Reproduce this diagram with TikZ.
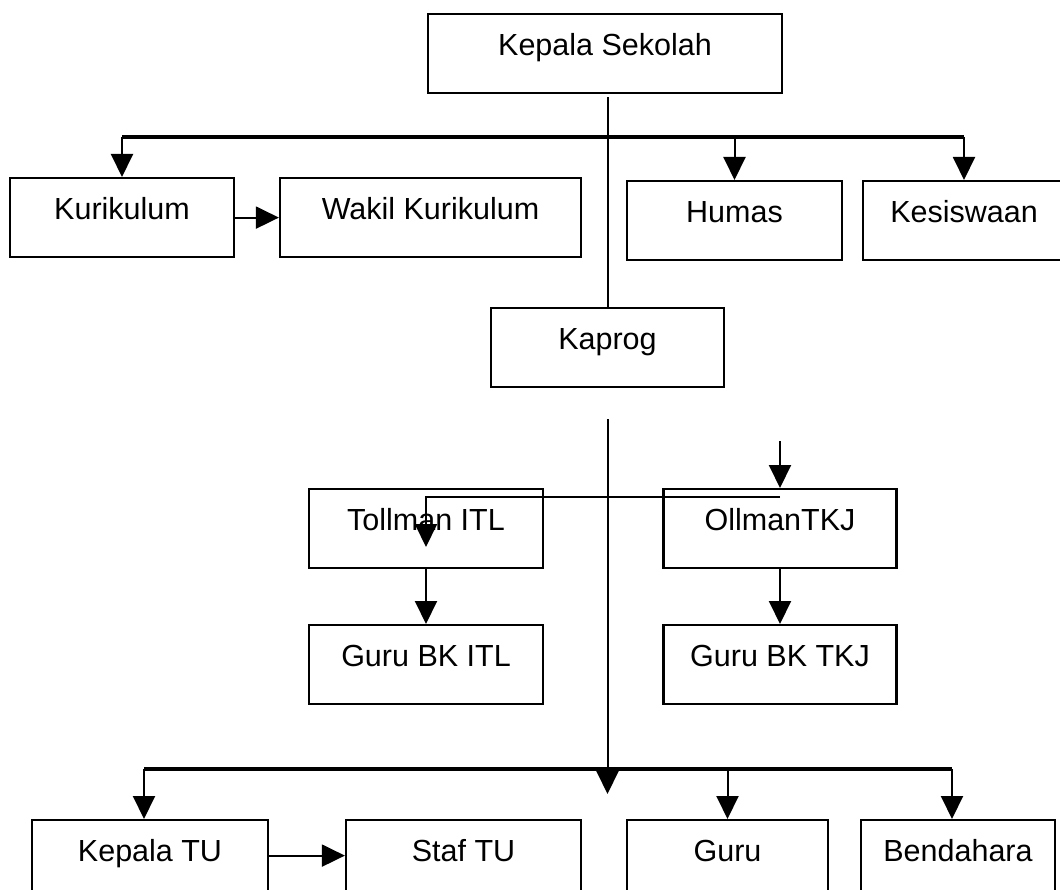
\documentclass[tikz,border=0pt]{standalone}
\usepackage{fontspec}
\setmainfont{Liberation Sans}
\usetikzlibrary{arrows.meta}
\tikzstyle{Box}=[draw,rectangle,line width=2.2pt,inner sep=0pt,anchor=north,
    text height=41pt,text depth=38pt,font=\fontsize{30.5}{36}\selectfont]
\tikzstyle{Edge}=[draw,line width=2pt]
\tikzstyle{Bus}=[draw,line width=3.2pt]
\tikzstyle{Arrow}=[Edge,-{Triangle[width=22pt,length=23pt]}]

\begin{document}
\begin{tikzpicture}[x=1pt,y=-1pt]
            \useasboundingbox(0,0)rectangle(1060,890);
            \node[Box,minimum width=354](ks)at(605,13){Kepala Sekolah};
            \node[Box,minimum width=224](kur)at(122,177){Kurikulum};
            \node[Box,minimum width=301](wk)at(430.5,177){Wakil Kurikulum};
            \node[Box,minimum width=215](hum)at(734.5,180){Humas};
            \node[Box,minimum width=202](kes)at(964,180){Kesiswaan};
            \node[Box,minimum width=233](kp)at(607.5,307){Kaprog};
            \node[Box,minimum width=234](ti)at(426,488){Tollman ITL};
            \node[Box,minimum width=233](ol)at(780,488){OllmanTKJ};
            \node[Box,minimum width=234](gi)at(426,624){Guru BK ITL};
            \node[Box,minimum width=233](gt)at(780,624){Guru BK TKJ};
            \node[Box,minimum width=236](ktu)at(150,819){Kepala TU};
            \node[Box,minimum width=235](stu)at(463.5,819){Staf TU};
            \node[Box,minimum width=201](gu)at(727.5,819){Guru};
            \node[Box,minimum width=194](bd)at(958,819){Bendahara};
            \coordinate(b1)at(0,137);
            \coordinate(b2)at(0,769);
            \coordinate(h)at(0,497);
            \coordinate(t)at(780,441);
            \coordinate(c)at(426,547);
            \coordinate(m)at(607.5,794);
            %
            \draw[Edge]([yshift=-3]kp.north |- ks.south)--(kp.north);
            \draw[Bus](kur.north |- b1)--(kes.north |- b1);
            \draw[Arrow](kur.north |- b1)--(kur.north);
            \draw[Arrow](hum.north |- b1)--(hum.north);
            \draw[Arrow](kes.north |- b1)--(kes.north);
            \draw[Arrow](kur.east)--(wk.west);
            %
            \draw[Arrow](t)--(ol.north);
            \draw[Arrow](ol.north |- h)-|(c);
            \draw[Arrow](ti.south)--(gi.north);
            \draw[Arrow](ol.south)--(gt.north);
            %
            \draw[Arrow]([yshift=-31]kp.south)--(m);
            \draw[Bus]([xshift=-6]ktu.north |- b2)--([xshift=-6]bd.north |- b2);
            \draw[Arrow]([xshift=-6]ktu.north |- b2)--([xshift=-6]ktu.north);
            \draw[Arrow](gu.north |- b2)--(gu.north);
            \draw[Arrow]([xshift=-6]bd.north |- b2)--([xshift=-6]bd.north);
            \draw[Arrow]([yshift=4]ktu.east)--([yshift=4]stu.west);
\end{tikzpicture}
\end{document}
